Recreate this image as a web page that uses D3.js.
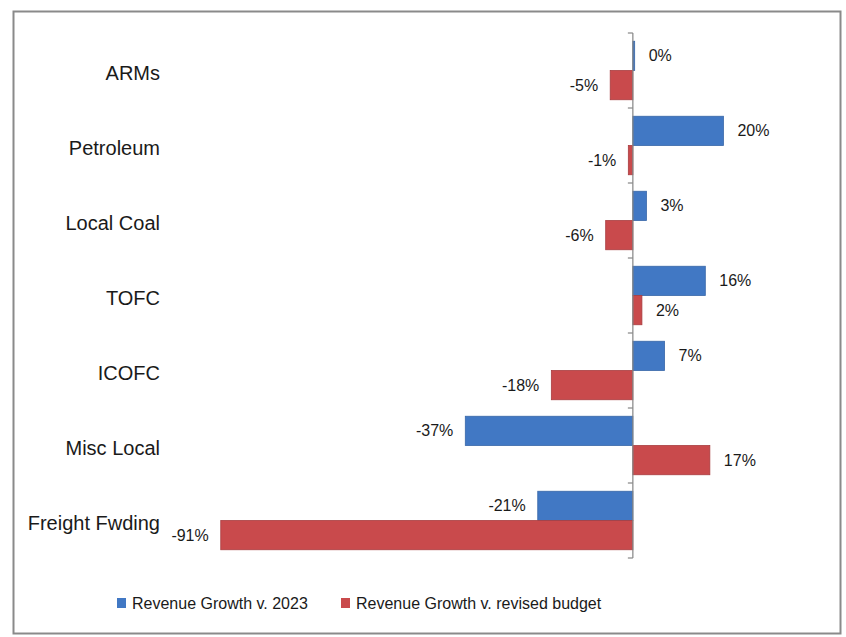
<!DOCTYPE html>
<html>
<head>
<meta charset="utf-8">
<script src="https://cdn.jsdelivr.net/npm/d3@7"></script>
<style>
  html, body { margin: 0; padding: 0; background: #ffffff; }
  svg text { font-family: "Liberation Sans", Arial, sans-serif; fill: #1a1a1a; }
</style>
</head>
<body>
<svg id="chart" width="846" height="637"></svg>
<script>
const categories = ["ARMs", "Petroleum", "Local Coal", "TOFC", "ICOFC", "Misc Local", "Freight Fwding"];
const seriesNames = ["Revenue Growth v. 2023", "Revenue Growth v. revised budget"];
const growthVs2023 = [0.004, 0.20, 0.03, 0.16, 0.07, -0.37, -0.21];
const growthVsBudget = [-0.05, -0.01, -0.06, 0.02, -0.18, 0.17, -0.91];
const seriesColors = ["#4178c4", "#c94a4c"];
const seriesStrokes = ["#3867a8", "#a93d40"];

const svg = d3.select("#chart");

// outer frame
svg.append("rect").attr("x", 13.5).attr("y", 11.5).attr("width", 827).attr("height", 622)
  .attr("fill", "#ffffff").attr("stroke", "#8a8a8a").attr("stroke-width", 2);

const plotTop = 33, plotBottom = 558;
const x = d3.scaleLinear().domain([-1.0, 0.4]).range([180, 814]);
const y = d3.scaleBand().domain(categories).range([plotTop, plotBottom]).paddingInner(0.22).paddingOuter(0.11);
const sub = d3.scaleBand().domain([0, 1]).range([0, y.bandwidth()]);
const locale = d3.formatLocale({decimal: ".", thousands: ",", grouping: [3], currency: ["$", ""], minus: "-", percent: "%"});
const fmt = locale.format(".0%");

const data = [];
categories.forEach((c, i) => {
  data.push({cat: c, s: 0, v: growthVs2023[i]});
  data.push({cat: c, s: 1, v: growthVsBudget[i]});
});

// bars
svg.append("g").selectAll("rect").data(data).join("rect")
  .attr("x", d => Math.min(x(0), x(d.v)))
  .attr("y", d => y(d.cat) + sub(d.s))
  .attr("width", d => Math.max(1, Math.abs(x(d.v) - x(0))))
  .attr("height", sub.bandwidth())
  .attr("fill", d => seriesColors[d.s])
  .attr("stroke", d => seriesStrokes[d.s])
  .attr("stroke-width", 0.8);

// zero axis with ticks at category boundaries
const axisG = svg.append("g");
axisG.append("line").attr("x1", x(0)).attr("x2", x(0)).attr("y1", plotTop).attr("y2", plotBottom)
  .attr("stroke", "#868686").attr("stroke-width", 1.2);
const step = (plotBottom - plotTop) / categories.length;
d3.range(categories.length + 1).forEach(i => {
  axisG.append("line").attr("x1", x(0) - 5).attr("x2", x(0)).attr("y1", plotTop + i * step).attr("y2", plotTop + i * step)
    .attr("stroke", "#868686").attr("stroke-width", 1.2);
});

// category labels
svg.append("g").selectAll("text").data(categories).join("text")
  .attr("x", 160)
  .attr("y", d => plotTop + categories.indexOf(d) * step + step / 2 + 2)
  .attr("text-anchor", "end")
  .attr("dominant-baseline", "central")
  .attr("font-size", 20)
  .text(d => d);

// data labels
svg.append("g").selectAll("text").data(data).join("text")
  .attr("x", d => d.v >= 0 ? x(d.v) + 14 : x(d.v) - 12)
  .attr("y", d => y(d.cat) + sub(d.s) + sub.bandwidth() / 2)
  .attr("text-anchor", d => d.v >= 0 ? "start" : "end")
  .attr("dominant-baseline", "central")
  .attr("font-size", 16)
  .text(d => fmt(d.v));

// legend
const legend = svg.append("g");
const legendItems = [{x: 117, name: seriesNames[0], s: 0}, {x: 341, name: seriesNames[1], s: 1}];
legendItems.forEach(it => {
  legend.append("rect").attr("x", it.x).attr("y", 598).attr("width", 9).attr("height", 10)
    .attr("fill", seriesColors[it.s]);
  legend.append("text").attr("x", it.x + 15).attr("y", 603).attr("dominant-baseline", "central")
    .attr("font-size", 16).text(it.name);
});
</script>
</body>
</html>
